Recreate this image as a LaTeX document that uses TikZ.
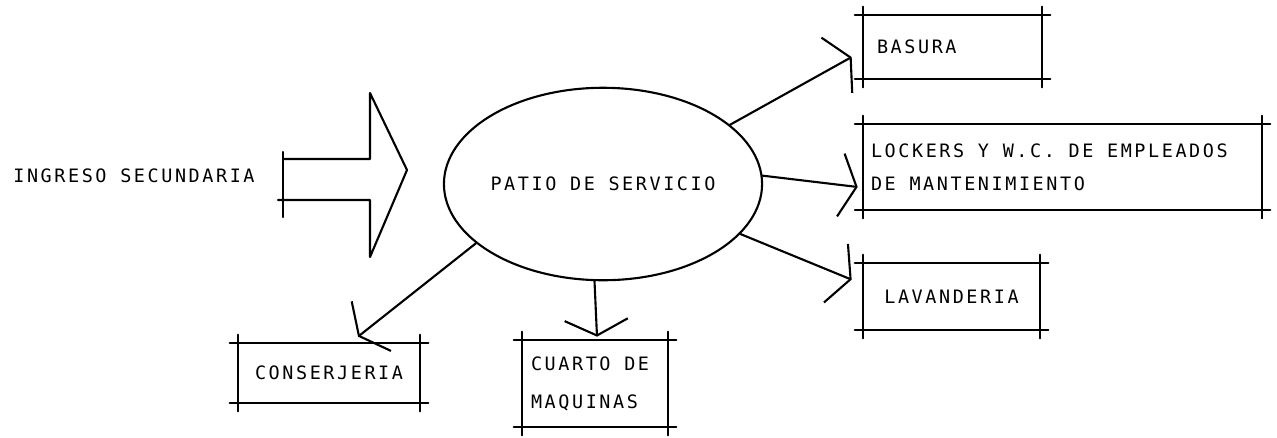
\documentclass[tikz,border=0pt]{standalone}
\usepackage{fontspec}
\newfontfamily\matriz{DejaVu Sans Mono}[LetterSpace=14]
\usetikzlibrary{arrows.meta,shapes.geometric}
\tikzset{
    trazo/.style={line width=1.2pt, line join=round, line cap=round},
    flecha/.style={trazo, -{Straight Barb[length=9pt,width=36pt]}},
    lado/.style={trazo, shorten <=-4.5pt, shorten >=-4.5pt},
    letra/.style={font=\matriz\fontsize{10.5pt}{18.7pt}\selectfont},
    zona/.style={ellipse, draw, trazo, letra, inner sep=0pt, minimum width=5.85cm, minimum height=3.85cm},
    sala/.style={letra, inner ysep=0pt, align=left,
        execute at begin node={\spaceskip=0pt\xspaceskip=0pt\relax},
        append after command={
            (\tikzlastnode.north west) edge[lado] (\tikzlastnode.north east)
            (\tikzlastnode.south west) edge[lado] (\tikzlastnode.south east)
            (\tikzlastnode.north west) edge[lado] (\tikzlastnode.south west)
            (\tikzlastnode.north east) edge[lado] (\tikzlastnode.south east)
        }}
}
\begin{document}
    \begin{tikzpicture}[x=0.02cm, y=-0.02cm]
        \useasboundingbox (0,0) rectangle (1277,437);

        \node[letra] (IS) at (134,176) {INGRESO SECUNDARIA};
        \node[zona] (PS) at (603,184) {PATIO DE SERVICIO};
        \node[sala, inner xsep=0.28cm, text width=3.02cm, minimum height=1.28cm] (BA) at (952.5,47) {BASURA};
        \node[sala, inner xsep=0.16cm, text width=7.66cm, minimum height=1.72cm] (LW) at (1062.5,167) {LOCKERS Y W.C. DE EMPLEADOS\\DE MANTENIMIENTO};
        \node[sala, inner xsep=0.16cm, text width=3.22cm, minimum height=1.34cm, align=center] (LA) at (951.5,296.5) {LAVANDERIA};
        \node[sala, inner xsep=0.2cm, text width=3.24cm, minimum height=1.2cm, align=center] (CO) at (329,373) {CONSERJERIA};
        \node[sala, inner xsep=0.18cm, text width=2.56cm, minimum height=1.74cm] (CM) at (595,383.5) {CUARTO DE\\[3pt]MAQUINAS};

        \draw[trazo] (283,152) -- (283,217);
        \draw[trazo] (283,159) -- (370,159) -- (370,93) -- (407,170) -- (370,257) -- (370,200) -- (278,200);

        \draw[flecha] (PS.25) -- ([shift={(-11,10)}]BA.west);
        \draw[flecha] (PS.3) -- ([shift={(-5,20)}]LW.west);
        \draw[flecha] (PS.-20) -- ([shift={(-11,17)}]LA.north west);
        \draw[flecha] (PS.205) -- ([shift={(29,-6)}]CO.north);
        \draw[flecha] (PS.265) -- ([shift={(2,-3)}]CM.north);
    \end{tikzpicture}
\end{document}
